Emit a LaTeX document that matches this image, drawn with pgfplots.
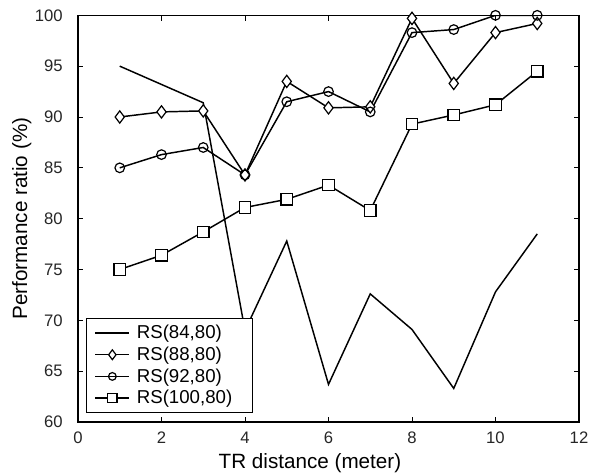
\documentclass[border=0pt]{standalone}
\usepackage{pgfplots}
\pgfplotsset{compat=1.18}
\usepackage{fontspec}
\setmainfont{Liberation Sans}
\begin{document}
\begin{tikzpicture}
\useasboundingbox (-58.5pt,-38.25pt) rectangle (396.75pt,316.5pt);
\begin{axis}[
  at={(0pt,0pt)}, anchor=south west,
  scale only axis,
  width=375.75pt, height=305pt,
  xmin=0, xmax=12, ymin=60, ymax=100,
  xtick={0,2,...,12}, ytick={60,65,...,100},
  tick align=inside, major tick length=4pt,
  tick style={black, line width=0.6pt},
  axis line style={line width=0.8pt},
  /pgf/number format/assume math mode=true,
  tick label style={font=\fontsize{12.5}{15}\selectfont, color=black!85},
  yticklabel style={xshift=-8pt},
  xticklabel style={yshift=-4pt},
  xlabel={TR distance (meter)},
  ylabel={Performance ratio (\%)},
  label style={font=\fontsize{15.5}{18}\selectfont},
  xlabel style={at={(axis description cs:0.463,-0.1)}, anchor=center},
  ylabel style={at={(axis description cs:-0.112,0.5)}, anchor=center},
  legend style={at={(axis description cs:0.016,0.022)}, anchor=south west,
    font=\fontsize{14}{16}\selectfont, draw=black, line width=0.8pt,
    row sep=0.6pt, inner xsep=6pt, inner ysep=3pt, cells={anchor=west}},
  legend image code/.code={
    \draw[mark repeat=2,mark phase=2, every mark/.append style={scale=0.8}] plot coordinates {(0cm,0cm) (0.45cm,0cm) (0.9cm,0cm)};},
  every axis plot/.append style={black, line width=1.1pt},
  mark options={solid, fill=white, line width=0.9pt},
]
\addplot[no marks] coordinates {
 (1,95.0) (2,93.2) (3,91.4) (4,69.0) (5,77.8) (6,63.7) (7,72.6) (8,69.1) (9,63.3) (10,72.8) (11,78.5)};
\addlegendentry{\hspace*{3pt}RS(84,80)}
\addplot[mark=diamond*, mark size=4.6pt] coordinates {
 (1,90.0) (2,90.5) (3,90.6) (4,84.3) (5,93.5) (6,90.9) (7,91.0) (8,99.7) (9,93.3) (10,98.3) (11,99.2)};
\addlegendentry{\hspace*{3pt}RS(88,80)}
\addplot[mark=o, mark size=3.6pt] coordinates {
 (1,85.0) (2,86.3) (3,87.0) (4,84.3) (5,91.5) (6,92.5) (7,90.5) (8,98.3) (9,98.6) (10,100.0) (11,100.0)};
\addlegendentry{\hspace*{3pt}RS(92,80)}
\addplot[mark=square*, mark size=4.3pt] coordinates {
 (1,75.0) (2,76.4) (3,78.7) (4,81.1) (5,81.9) (6,83.3) (7,80.8) (8,89.3) (9,90.2) (10,91.2) (11,94.5)};
\addlegendentry{\hspace*{3pt}RS(100,80)\hspace*{7pt}}
\end{axis}
\end{tikzpicture}
\end{document}
